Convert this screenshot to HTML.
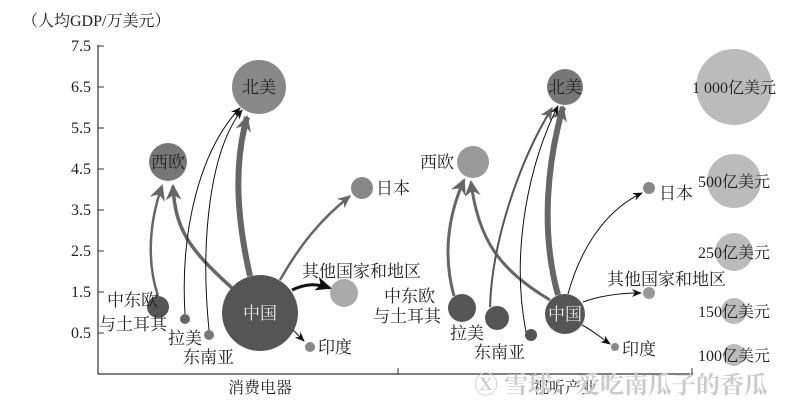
<!DOCTYPE html>
<html><head><meta charset="utf-8"><style>
html,body{margin:0;padding:0;background:#fff;}
svg{display:block;}
text{font-family:"Liberation Serif","Noto Serif CJK SC",serif;fill:#222;}
</style></head><body>
<svg width="800" height="406" viewBox="0 0 800 406" xmlns="http://www.w3.org/2000/svg">
<defs>
<marker id="mL" markerUnits="userSpaceOnUse" markerWidth="20" markerHeight="20" refX="14" refY="8" orient="auto"><path d="M0,0 L16,8 L0,16 L5,8 Z" fill="#666"/></marker>
<marker id="mM" markerUnits="userSpaceOnUse" markerWidth="16" markerHeight="16" refX="12" refY="6" orient="auto"><path d="M0,0 L13,6 L0,12 L4,6 Z" fill="#666"/></marker>
<marker id="mB" markerUnits="userSpaceOnUse" markerWidth="20" markerHeight="20" refX="14" refY="7" orient="auto"><path d="M0,0 L16,7 L0,14 L4,7 Z" fill="#111"/></marker>
<marker id="mS" markerUnits="userSpaceOnUse" markerWidth="12" markerHeight="12" refX="9" refY="4" orient="auto"><path d="M0,0 L10,4 L0,8 L3,4 Z" fill="#111"/></marker>
</defs>
<text x="22" y="26" font-size="16">（人均GDP/万美元）</text>
<line x1="98" y1="45" x2="98" y2="374" stroke="#333" stroke-width="1.2"/>
<line x1="98" y1="374" x2="693" y2="374" stroke="#333" stroke-width="1.2"/>
<line x1="398" y1="368" x2="398" y2="374" stroke="#333"/>
<line x1="692" y1="368" x2="692" y2="374" stroke="#333"/>
<g stroke="#333"><line x1="98" y1="46" x2="104" y2="46"/><line x1="98" y1="87" x2="104" y2="87"/><line x1="98" y1="128" x2="104" y2="128"/><line x1="98" y1="169" x2="104" y2="169"/><line x1="98" y1="210" x2="104" y2="210"/><line x1="98" y1="251" x2="104" y2="251"/><line x1="98" y1="292" x2="104" y2="292"/><line x1="98" y1="333" x2="104" y2="333"/></g>
<g font-size="16" text-anchor="end">
<text x="91" y="51">7.5</text><text x="91" y="92">6.5</text><text x="91" y="133">5.5</text><text x="91" y="174">4.5</text><text x="91" y="215">3.5</text><text x="91" y="256">2.5</text><text x="91" y="297">1.5</text><text x="91" y="338">0.5</text>
</g>
<text x="260" y="393" font-size="16" text-anchor="middle">消费电器</text>

<circle cx="259" cy="87" r="27" fill="#888"/>
<circle cx="168" cy="162" r="19" fill="#777"/>
<circle cx="362" cy="188" r="11" fill="#888"/>
<circle cx="344" cy="293" r="14" fill="#aaa"/>
<circle cx="260" cy="313" r="38" fill="#555"/>
<circle cx="310" cy="347" r="5" fill="#888"/>
<circle cx="158" cy="307" r="11" fill="#555"/>
<circle cx="185" cy="319" r="5" fill="#666"/>
<circle cx="209" cy="335" r="5" fill="#777"/>
<g fill="none">
<path d="M158,296 C146,260 150,220 162,186" stroke="#666" stroke-width="2.5" marker-end="url(#mL)"/>
<path d="M232,288 C190,250 175,230 173,186" stroke="#666" stroke-width="3.5" marker-end="url(#mL)"/>
<path d="M250,276 C235,210 235,160 247,117" stroke="#666" stroke-width="6" marker-end="url(#mL)"/>
<path d="M185,314 C180,230 200,150 240,108" stroke="#111" stroke-width="1" marker-end="url(#mS)"/>
<path d="M209,330 C200,240 210,150 242,110" stroke="#111" stroke-width="1" marker-end="url(#mS)"/>
<path d="M280,280 C300,245 320,220 350,196" stroke="#666" stroke-width="2.5" marker-end="url(#mM)"/>
<path d="M292,290 C305,284 315,283 330,288" stroke="#111" stroke-width="3" marker-end="url(#mB)"/>
<path d="M293,330 L304,341" stroke="#111" stroke-width="1" marker-end="url(#mS)"/>
</g>
<g font-size="17">
<text x="259" y="93" text-anchor="middle">北美</text>
<text x="168" y="168" text-anchor="middle">西欧</text>
<text x="376" y="194">日本</text>
<text x="302" y="277">其他国家和地区</text>
<text x="260" y="319" text-anchor="middle" style="fill:#eee">中国</text>
<text x="318" y="353">印度</text>
<text x="107" y="306">中东欧</text>
<text x="99" y="330">与土耳其</text>
<text x="168" y="344">拉美</text>
<text x="183" y="363">东南亚</text>
</g>

<circle cx="565" cy="87" r="18" fill="#777"/>
<circle cx="473" cy="162" r="16" fill="#999"/>
<circle cx="649" cy="188" r="6" fill="#888"/>
<circle cx="649" cy="293" r="6" fill="#999"/>
<circle cx="565" cy="314" r="20" fill="#555"/>
<circle cx="615" cy="347" r="4" fill="#888"/>
<circle cx="462" cy="308" r="14" fill="#555"/>
<circle cx="497" cy="318" r="12" fill="#555"/>
<circle cx="531" cy="335" r="6" fill="#555"/>
<g fill="none">
<path d="M454,296 C444,260 446,220 464,180" stroke="#666" stroke-width="3" marker-end="url(#mL)"/>
<path d="M550,300 C500,270 478,240 471,182" stroke="#666" stroke-width="3" marker-end="url(#mL)"/>
<path d="M558,295 C540,230 548,160 563,107" stroke="#666" stroke-width="6" marker-end="url(#mL)"/>
<path d="M490,307 C492,240 520,160 552,108" stroke="#555" stroke-width="2" marker-end="url(#mM)"/>
<path d="M526,332 C510,250 530,160 558,106" stroke="#111" stroke-width="1" marker-end="url(#mS)"/>
<path d="M568,294 C580,250 605,210 642,193" stroke="#111" stroke-width="1" marker-end="url(#mS)"/>
<path d="M583,302 C600,296 618,293 641,293" stroke="#111" stroke-width="1" marker-end="url(#mS)"/>
<path d="M582,325 C592,330 600,337 610,344" stroke="#111" stroke-width="1" marker-end="url(#mS)"/>
</g>
<g font-size="17">
<text x="565" y="93" text-anchor="middle">北美</text>
<text x="420" y="168">西欧</text>
<text x="659" y="199">日本</text>
<text x="607" y="285">其他国家和地区</text>
<text x="565" y="320" text-anchor="middle" style="fill:#eee">中国</text>
<text x="622" y="355">印度</text>
<text x="384" y="302">中东欧</text>
<text x="373" y="322">与土耳其</text>
<text x="450" y="339">拉美</text>
<text x="474" y="358">东南亚</text>
</g>

<circle cx="734" cy="87" r="38" fill="#bbb"/>
<circle cx="734" cy="181" r="27" fill="#bbb"/>
<circle cx="734" cy="252" r="19" fill="#bbb"/>
<circle cx="734" cy="311" r="13" fill="#bbb"/>
<circle cx="734" cy="355" r="11" fill="#bbb"/>
<g font-size="16" text-anchor="middle">
<text x="734" y="93">1 000亿美元</text>
<text x="734" y="187">500亿美元</text>
<text x="734" y="258">250亿美元</text>
<text x="734" y="317">150亿美元</text>
<text x="734" y="361">100亿美元</text>
</g>
<text x="565" y="393" font-size="16" text-anchor="middle">视听产业</text>
<text x="474" y="393" font-size="24" font-weight="bold" style="fill:#cbcbcb" font-family="Liberation Sans, Noto Sans CJK SC, sans-serif">Ⓧ 雪球：爱吃南瓜子的香瓜</text>
</svg>
</body></html>
